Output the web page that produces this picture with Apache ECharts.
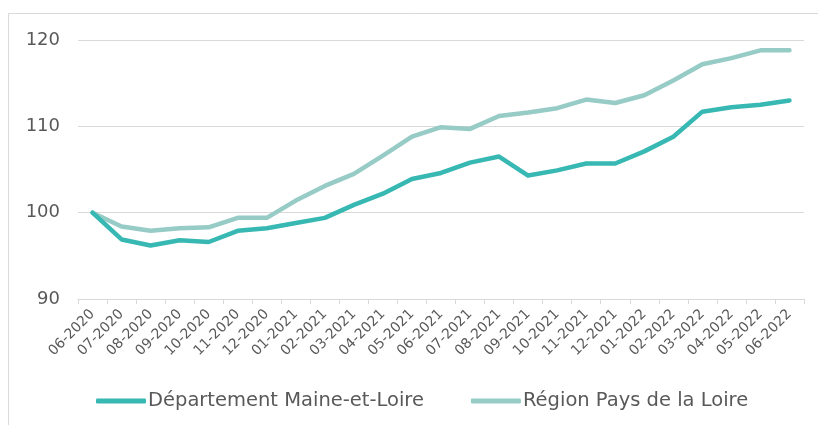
<!DOCTYPE html>
<html>
<head>
<meta charset="utf-8">
<script src="https://cdn.jsdelivr.net/npm/echarts@6/dist/echarts.min.js"></script>
<style>
  html, body { margin: 0; padding: 0; background: #fff; }
  #chart { width: 818px; height: 425px; }
</style>
</head>
<body>
<div id="chart"></div>
<script>
// months, index base 100 = 06-2020
var months = ['06-2020', '07-2020', '08-2020', '09-2020', '10-2020', '11-2020', '12-2020',
  '01-2021', '02-2021', '03-2021', '04-2021', '05-2021', '06-2021', '07-2021', '08-2021',
  '09-2021', '10-2021', '11-2021', '12-2021', '01-2022', '02-2022', '03-2022', '04-2022',
  '05-2022', '06-2022'];

var maineEtLoire = [100, 96.9, 96.2, 96.8, 96.6, 97.9, 98.2, 98.8, 99.4, 100.9, 102.2, 103.9,
  104.6, 105.8, 106.5, 104.3, 104.9, 105.7, 105.7, 107.1, 108.8, 111.7, 112.2, 112.5, 113.0];

var paysDeLaLoire = [100, 98.4, 97.9, 98.2, 98.3, 99.4, 99.4, 101.4, 103.1, 104.5, 106.6, 108.8,
  109.9, 109.7, 111.2, 111.6, 112.1, 113.1, 112.7, 113.6, 115.3, 117.2, 117.9, 118.8, 118.8];

var yTicks = { min: 90, max: 120, step: 10 };

var darkTeal = '#37b8b3';
var lightTeal = '#96cbc6';
var txtGrey = '#595959';
var lineGrey = '#d9d9d9';

var chart = echarts.init(document.getElementById('chart'));

var option = {
  animation: false,
  textStyle: { fontFamily: 'DejaVu Sans' },
  // thin frame around the chart (right/bottom edges fall outside the picture)
  graphic: [{
    type: 'rect',
    shape: { x: 8.5, y: 13.5, width: 830, height: 430 },
    style: { fill: 'none', stroke: lineGrey, lineWidth: 1 },
    silent: true
  }],
  grid: { left: 78, right: 14, top: 40, bottom: 126 },
  legend: {
    bottom: 9,
    left: 91,
    icon: 'roundRect',
    itemWidth: 50,
    itemHeight: 5,
    itemGap: 47,
    textStyle: { color: txtGrey, fontSize: 19.5, padding: [0, 0, 0, -3] },
    data: ['Département Maine-et-Loire', 'Région Pays de la Loire']
  },
  xAxis: {
    type: 'category',
    data: months,
    boundaryGap: true,
    axisLine: { lineStyle: { color: lineGrey, width: 1 } },
    axisTick: { show: true, length: 5, lineStyle: { color: lineGrey } },
    axisLabel: { rotate: 45, interval: 0, color: txtGrey, fontSize: 14, margin: 13 }
  },
  yAxis: {
    type: 'value',
    min: yTicks.min,
    max: yTicks.max,
    interval: yTicks.step,
    axisLine: { show: false },
    axisTick: { show: false },
    axisLabel: { color: txtGrey, fontSize: 18, margin: 18 },
    splitLine: { lineStyle: { color: lineGrey, width: 1 } }
  },
  series: [
    {
      name: 'Département Maine-et-Loire',
      type: 'line',
      data: maineEtLoire,
      showSymbol: false,
      symbol: 'none',
      z: 3,
      itemStyle: { color: darkTeal },
      lineStyle: { color: darkTeal, width: 4.5, cap: 'round', join: 'round' }
    },
    {
      name: 'Région Pays de la Loire',
      type: 'line',
      data: paysDeLaLoire,
      showSymbol: false,
      symbol: 'none',
      z: 2,
      itemStyle: { color: lightTeal },
      lineStyle: { color: lightTeal, width: 4.5, cap: 'round', join: 'round' }
    }
  ]
};

chart.setOption(option);
</script>
</body>
</html>
